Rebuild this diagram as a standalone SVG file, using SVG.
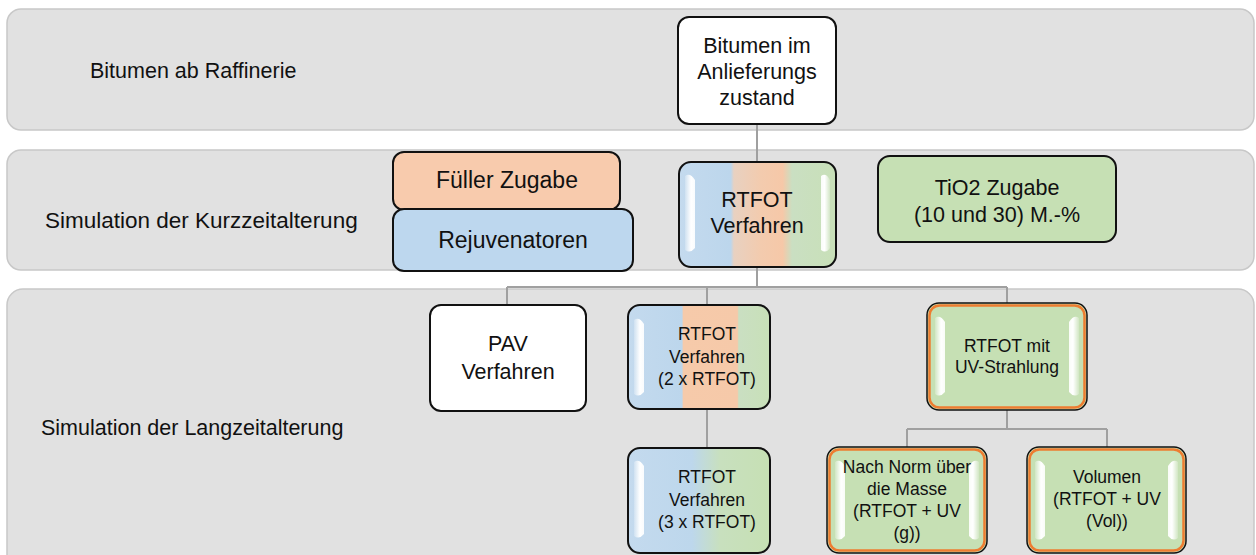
<svg xmlns="http://www.w3.org/2000/svg" width="1256" height="555" viewBox="0 0 1256 555">
<style>
.band{fill:#E1E1E1;stroke:#C8C8C8;stroke-width:1.5}
.node{stroke:#111;stroke-width:2}
.uv{stroke:#111;stroke-width:1.5}
.uvin{fill:none;stroke:#ED7D31;stroke-width:2.5}
.t{font-family:"Liberation Sans",Arial,sans-serif;fill:#111;text-anchor:middle}
.bl{font-family:"Liberation Sans",Arial,sans-serif;fill:#111;font-size:21.5px}
.conn{fill:none;stroke:#A0A0A0;stroke-width:2}
.hl{fill:url(#gloss)}
</style>
<defs>
<linearGradient id="gloss" x1="0" x2="1" y1="0" y2="0">
<stop offset="0" stop-color="#fff" stop-opacity="0.2"/>
<stop offset="0.6" stop-color="#fff" stop-opacity="1"/>
<stop offset="1" stop-color="#fff" stop-opacity="0.9"/>
</linearGradient>
<linearGradient id="tri" x1="0" x2="1" y1="0" y2="0">
<stop offset="0" stop-color="#C4DAEE"/>
<stop offset="0.33" stop-color="#BCD6EC"/>
<stop offset="0.35" stop-color="#E8D1C1"/>
<stop offset="0.52" stop-color="#F3CBAE"/>
<stop offset="0.66" stop-color="#F6C8A8"/>
<stop offset="0.72" stop-color="#CADFC2"/>
<stop offset="1" stop-color="#C8E0B8"/>
</linearGradient>
<linearGradient id="tri2" x1="0" x2="1" y1="0" y2="0">
<stop offset="0" stop-color="#C4DAEE"/>
<stop offset="0.38" stop-color="#BCD6EC"/>
<stop offset="0.39" stop-color="#F6CAAA"/>
<stop offset="0.77" stop-color="#F6C9A9"/>
<stop offset="0.78" stop-color="#CADFC2"/>
<stop offset="1" stop-color="#C8E0B8"/>
</linearGradient>
<linearGradient id="bg" x1="0" x2="1" y1="0" y2="0">
<stop offset="0" stop-color="#C4DAEE"/>
<stop offset="0.45" stop-color="#BDD7EC"/>
<stop offset="0.65" stop-color="#C8E0BE"/>
<stop offset="1" stop-color="#C6E0B4"/>
</linearGradient>
</defs>

<g id="band-raffinerie">
<rect class="band" x="7" y="9" width="1247" height="121" rx="14"/>
<text class="bl" x="90" y="78">Bitumen ab Raffinerie</text>
</g>
<g id="band-kurzzeit">
<rect class="band" x="7" y="150" width="1247" height="120" rx="14"/>
<text class="bl" x="45" y="228" style="font-size:22.5px">Simulation der Kurzzeitalterung</text>
</g>
<g id="band-langzeit">
<rect class="band" x="7" y="289" width="1247" height="285" rx="16"/>
<text class="bl" x="41" y="435">Simulation der Langzeitalterung</text>
</g>

<g id="connectors">
<path class="conn" d="M757 124V162M757 267V287M507 287H1007M507 287V305M707 287V305M1007 287V303M707 409V448M1007 410V429M907 429H1107M907 429V447M1107 429V447"/>
</g>

<g id="n-anlieferung">
<rect class="node" x="678" y="17" width="158" height="107" rx="11" fill="#fff"/>
<text class="t" x="757" y="53" font-size="21.5">Bitumen im</text>
<text class="t" x="757" y="79" font-size="21.5">Anlieferungs</text>
<text class="t" x="757" y="105" font-size="21.5">zustand</text>
</g>

<g id="n-fueller">
<rect class="node" x="393" y="152" width="227" height="58" rx="11" fill="#F8CBAD"/>
<text class="t" x="507" y="188" font-size="23">Füller Zugabe</text>
</g>
<g id="n-rejuv">
<rect class="node" x="393" y="209" width="240" height="62" rx="11" fill="#BDD7EE"/>
<text class="t" x="513" y="248" font-size="23">Rejuvenatoren</text>
</g>

<g id="n-rtfot-kurz">
<rect class="node" x="679" y="162" width="157" height="105" rx="12" fill="url(#tri)"/>
<path class="hl" d="M685 176Q690 172 695 180V248Q690 254 685 250Z"/>
<path class="hl" d="M821 180Q825 172 830 176V250Q825 254 821 248Z" transform="translate(1651 0) scale(-1 1)"/>
<text class="t" x="757" y="207" font-size="21.5">RTFOT</text>
<text class="t" x="757" y="233" font-size="21.5">Verfahren</text>
</g>

<g id="n-tio2">
<rect class="node" x="878" y="156" width="238" height="86" rx="12" fill="#C6E0B4"/>
<text class="t" x="997" y="195" font-size="21.5">TiO2 Zugabe</text>
<text class="t" x="997" y="222" font-size="21.5">(10 und 30) M.-%</text>
</g>

<g id="n-pav">
<rect class="node" x="430" y="305" width="156" height="106" rx="11" fill="#fff"/>
<text class="t" x="508" y="351" font-size="21.5">PAV</text>
<text class="t" x="508" y="379" font-size="21.5">Verfahren</text>
</g>

<g id="n-rtfot-2x">
<rect class="node" x="628" y="305" width="142" height="104" rx="12" fill="url(#tri2)"/>
<path class="hl" d="M634 320Q639 316 644 324V392Q639 398 634 394Z"/>
<text class="t" x="707" y="340" font-size="17.5">RTFOT</text>
<text class="t" x="707" y="363" font-size="17.5">Verfahren</text>
<text class="t" x="707" y="385" font-size="17.5">(2 x RTFOT)</text>
</g>

<g id="n-rtfot-3x">
<rect class="node" x="628" y="448" width="142" height="105" rx="12" fill="url(#bg)"/>
<path class="hl" d="M634 462Q639 458 644 466V534Q639 540 634 536Z"/>
<text class="t" x="707" y="483" font-size="17.5">RTFOT</text>
<text class="t" x="707" y="506" font-size="17.5">Verfahren</text>
<text class="t" x="707" y="528" font-size="17.5">(3 x RTFOT)</text>
</g>

<g id="n-uv">
<rect class="uv" x="927" y="303" width="160" height="107" rx="12" fill="#C6E0B4"/>
<rect class="uvin" x="929.5" y="305.5" width="155" height="102" rx="10"/>
<path class="hl" d="M935 318Q940 314 945 322V392Q940 398 935 394Z"/>
<path class="hl" d="M935 318Q940 314 945 322V392Q940 398 935 394Z" transform="translate(2014 0) scale(-1 1)"/>
<text class="t" x="1007" y="352" font-size="17.5">RTFOT mit</text>
<text class="t" x="1007" y="373" font-size="17.5">UV-Strahlung</text>
</g>

<g id="n-norm">
<rect class="uv" x="827" y="447" width="160" height="106" rx="12" fill="#C6E0B4"/>
<rect class="uvin" x="829.5" y="449.5" width="155" height="101" rx="10"/>
<path class="hl" d="M835 462Q840 458 845 466V536Q840 542 835 538Z"/>
<path class="hl" d="M835 462Q840 458 845 466V536Q840 542 835 538Z" transform="translate(1814 0) scale(-1 1)"/>
<text class="t" x="907" y="473" font-size="17.5">Nach Norm über</text>
<text class="t" x="907" y="495" font-size="17.5">die Masse</text>
<text class="t" x="907" y="517" font-size="17.5">(RTFOT + UV</text>
<text class="t" x="907" y="539" font-size="17.5">(g))</text>
</g>

<g id="n-volumen">
<rect class="uv" x="1027" y="447" width="159" height="106" rx="12" fill="#C6E0B4"/>
<rect class="uvin" x="1029.5" y="449.5" width="154" height="101" rx="10"/>
<path class="hl" d="M1035 462Q1040 458 1045 466V536Q1040 542 1035 538Z"/>
<path class="hl" d="M1035 462Q1040 458 1045 466V536Q1040 542 1035 538Z" transform="translate(2213 0) scale(-1 1)"/>
<text class="t" x="1107" y="483" font-size="17.5">Volumen</text>
<text class="t" x="1107" y="505" font-size="17.5">(RTFOT + UV</text>
<text class="t" x="1107" y="527" font-size="17.5">(Vol))</text>
</g>
</svg>
